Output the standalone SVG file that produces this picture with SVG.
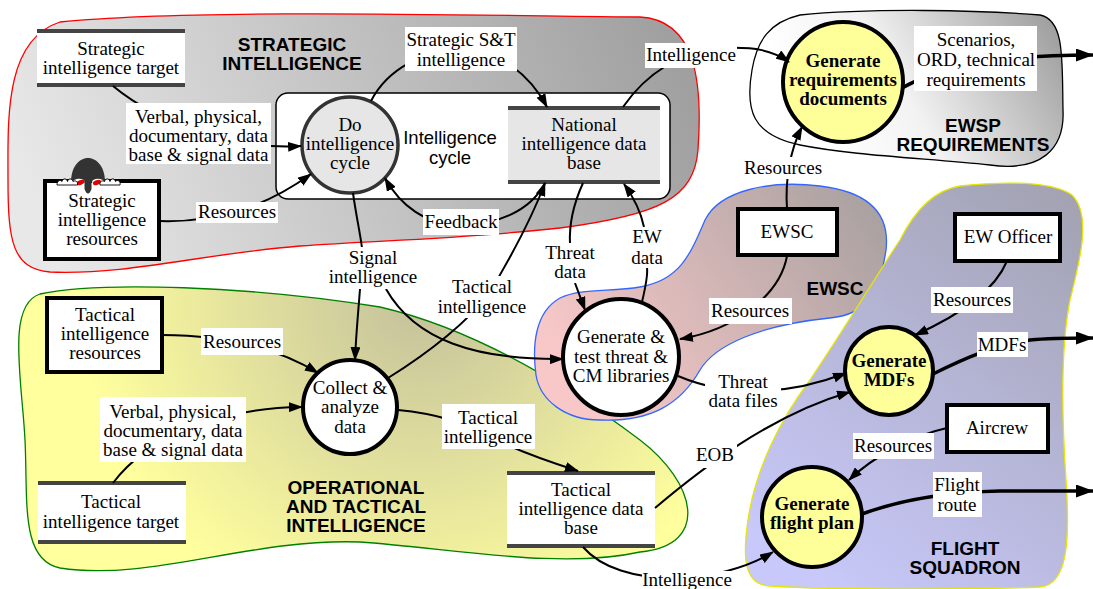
<svg xmlns="http://www.w3.org/2000/svg" width="1093" height="589" viewBox="0 0 1093 589">
  <style>
    .t { font-family: "Liberation Serif", "Times New Roman", serif; font-size: 19px; text-anchor: middle; fill: #000; }
    .tb { font-family: "Liberation Serif", "Times New Roman", serif; font-size: 19px; font-weight: bold; text-anchor: middle; fill: #000; }
    .h { font-family: "Liberation Sans", Arial, sans-serif; font-size: 19px; font-weight: bold; text-anchor: middle; fill: #000; }
    .s { font-family: "Liberation Sans", Arial, sans-serif; font-size: 18.5px; text-anchor: middle; fill: #000; }
    .lbl { fill: #fff; stroke: none; }
    .c { fill: none; stroke: #000; stroke-width: 2; }
    .ck { fill: none; stroke: #000; stroke-width: 3.5; }
    .box { fill: #fff; stroke: #000; stroke-width: 4; }
    .bar { stroke: #444; stroke-width: 4; }
    .proc { fill: #fff; stroke: #000; stroke-width: 4; }
    .gen { fill: #ffff99; stroke: #000; stroke-width: 4; }
    .region { stroke-width: 1.3; }
  </style>
  <defs>
    <marker id="ah" viewBox="0 0 14 10" refX="13" refY="5" markerWidth="14" markerHeight="10" markerUnits="userSpaceOnUse" orient="auto">
      <path d="M0,0 L14,5 L0,10 Z" fill="#000"/>
    </marker>
    <marker id="ahBig" viewBox="0 0 18 13" refX="17" refY="6.5" markerWidth="18" markerHeight="13" markerUnits="userSpaceOnUse" orient="auto">
      <path d="M0,0 L18,6.5 L0,13 Z" fill="#000"/>
    </marker>
    <linearGradient id="gStrat" gradientUnits="userSpaceOnUse" x1="60" y1="270" x2="660" y2="20">
      <stop offset="0" stop-color="#e8e8e8"/>
      <stop offset="1" stop-color="#a0a0a0"/>
    </linearGradient>
    <radialGradient id="gOper" gradientUnits="userSpaceOnUse" cx="420" cy="300" r="340">
      <stop offset="0" stop-color="#c4c19c"/>
      <stop offset="1" stop-color="#ffff9e"/>
    </radialGradient>
    <linearGradient id="gEwsp" gradientUnits="userSpaceOnUse" x1="830" y1="150" x2="1060" y2="15">
      <stop offset="0" stop-color="#ffffff"/>
      <stop offset="0.35" stop-color="#f2f2f2"/>
      <stop offset="1" stop-color="#9a9a9a"/>
    </linearGradient>
    <linearGradient id="gEwsc" gradientUnits="userSpaceOnUse" x1="590" y1="400" x2="880" y2="200">
      <stop offset="0" stop-color="#f8c8c8"/>
      <stop offset="1" stop-color="#a8a0a0"/>
    </linearGradient>
    <linearGradient id="gFlight" gradientUnits="userSpaceOnUse" x1="790" y1="560" x2="1070" y2="190">
      <stop offset="0" stop-color="#c8c8fa"/>
      <stop offset="1" stop-color="#a2a2b2"/>
    </linearGradient>
  </defs>

  <!-- organisational regions -->
  <g id="regions">
    <path id="region-strategic" class="region" fill="url(#gStrat)" stroke="#ff0000"
      d="M60,22 C200,8 500,16 640,17 C695,20 703,80 698,150 C694,198 660,215 560,228 C450,240 380,240 300,246 C200,254 130,275 50,272 C12,269 8,240 8,180 C8,120 4,40 60,22 Z"/>
    <path id="region-operational" class="region" fill="url(#gOper)" stroke="#008000"
      d="M40,294 C100,281 250,286 380,307 C470,328 560,380 640,440 C695,482 712,545 640,552 C560,570 450,548 360,542 C250,538 150,582 60,568 C20,560 28,500 25,440 C22,380 6,305 40,294 Z"/>
    <path id="region-ewsp" class="region" fill="url(#gEwsp)" stroke="#000"
      d="M800,15 C870,8 980,10 1040,15 C1065,20 1062,60 1063,110 C1065,150 1040,172 990,165 C920,158 850,155 800,145 C752,135 745,110 752,70 C757,40 770,22 800,15 Z"/>
    <path id="region-ewsc" class="region" fill="url(#gEwsc)" stroke="#3366ff"
      d="M600,420 C650,422 680,405 700,370 C715,345 760,325 830,318 C870,314 880,290 886,250 C890,215 870,192 820,186 C770,180 720,190 705,220 C690,255 680,280 640,287 C610,292 580,288 560,298 C535,312 532,345 536,375 C540,400 565,420 600,420 Z"/>
    <path id="region-flight" class="region" fill="url(#gFlight)" stroke="#e6e600"
      d="M960,186 C1000,182 1050,180 1072,195 C1092,215 1080,260 1070,300 C1060,350 1062,420 1066,480 C1070,540 1068,585 1040,587 C960,590 830,590 770,586 C745,585 742,560 748,520 C755,470 780,420 810,380 C850,320 880,270 900,240 C915,210 935,190 960,186 Z"/>
  </g>

  <!-- region titles -->
  <g id="region-titles">
    <text class="h" x="292" y="51">STRATEGIC</text>
    <text class="h" x="292" y="70">INTELLIGENCE</text>
    <text class="h" x="973" y="132">EWSP</text>
    <text class="h" x="973" y="151">REQUIREMENTS</text>
    <text class="h" x="835" y="295">EWSC</text>
    <text class="h" x="356" y="494">OPERATIONAL</text>
    <text class="h" x="356" y="513">AND TACTICAL</text>
    <text class="h" x="356" y="532">INTELLIGENCE</text>
    <text class="h" x="965" y="555">FLIGHT</text>
    <text class="h" x="965" y="574">SQUADRON</text>
  </g>

  <!-- intelligence cycle frame -->
  <g id="intelligence-cycle">
    <rect x="276" y="93" width="394" height="106" rx="12" fill="#fff" stroke="#000" stroke-width="1.5"/>
    <text class="s" x="450" y="144">Intelligence</text>
    <text class="s" x="450" y="164">cycle</text>
  </g>

  <!-- nodes -->
  <g id="strategic-target">
    <rect x="37" y="31" width="148" height="54" fill="#fff"/>
    <line class="bar" x1="37" y1="31" x2="185" y2="31"/>
    <line class="bar" x1="37" y1="85" x2="185" y2="85"/>
    <text class="t" x="111" y="55">Strategic</text>
    <text class="t" x="111" y="74">intelligence target</text>
  </g>

  <g id="strategic-resources">
    <rect class="box" x="45" y="181" width="114" height="78"/>
    <text class="t" x="102" y="207">Strategic</text>
    <text class="t" x="102" y="226">intelligence</text>
    <text class="t" x="102" y="245">resources</text>
  </g>

  <!-- little figure peeking over the resources box -->
  <g id="kilroy">
    <path d="M71,182 C71,167 79,158 88,158 C97,158 105,167 105,182 Z" fill="#333"/>
    <ellipse cx="79" cy="182" rx="6" ry="3.2" fill="#fff"/>
    <ellipse cx="98" cy="182" rx="6" ry="3.2" fill="#fff"/>
    <ellipse cx="80.5" cy="182.5" rx="4.2" ry="2.3" fill="#e00000" transform="rotate(-20 80.5 182.5)"/>
    <ellipse cx="97" cy="182.5" rx="4.2" ry="2.3" fill="#e00000" transform="rotate(-20 97 182.5)"/>
    <path d="M84.5,180 L91.5,180 L91.5,189 Q88,198 84.5,189 Z" fill="#333"/>
    <path d="M57,185 c0,-4 3,-6 5,-3.5 c1,-3.5 4.5,-3.5 5.5,0 c1,-3.5 4.5,-3.5 5.5,0 c2.5,-1.5 5,0 4.5,3.5 Z" fill="#fff" stroke="#000" stroke-width="0.9"/>
    <path d="M100,185 c-0.5,-3.5 2,-5 4.5,-3.5 c1,-3.5 4.5,-3.5 5.5,0 c1,-3.5 4.5,-3.5 5.5,0 c2,-2.5 5.5,0 4.5,3.5 Z" fill="#fff" stroke="#000" stroke-width="0.9"/>
  </g>

  <g id="do-intelligence-cycle">
    <circle cx="350" cy="145" r="48" fill="#e6e6e6" stroke="#333" stroke-width="3.5"/>
    <text class="t" x="350" y="131">Do</text>
    <text class="t" x="350" y="150">intelligence</text>
    <text class="t" x="350" y="169">cycle</text>
  </g>

  <g id="national-db">
    <rect x="508" y="108" width="152" height="74" fill="#e6e6e6"/>
    <line class="bar" x1="508" y1="108" x2="660" y2="108"/>
    <line class="bar" x1="508" y1="182" x2="660" y2="182"/>
    <text class="t" x="584" y="131">National</text>
    <text class="t" x="584" y="150">intelligence data</text>
    <text class="t" x="584" y="169">base</text>
  </g>

  <g id="generate-requirements">
    <circle class="gen" cx="843" cy="82" r="60"/>
    <text class="tb" x="843" y="67">Generate</text>
    <text class="tb" x="843" y="86">requirements</text>
    <text class="tb" x="843" y="105">documents</text>
  </g>

  <g id="ewsc-box">
    <rect class="box" x="738" y="209" width="99" height="46"/>
    <text class="t" x="787" y="238">EWSC</text>
  </g>

  <g id="generate-libraries">
    <circle class="proc" cx="621" cy="357" r="58"/>
    <text class="t" x="621" y="343">Generate &amp;</text>
    <text class="t" x="621" y="363">test threat &amp;</text>
    <text class="t" x="621" y="382">CM libraries</text>
  </g>

  <g id="tactical-resources">
    <rect class="box" x="47" y="298" width="115" height="74"/>
    <text class="t" x="105" y="321">Tactical</text>
    <text class="t" x="105" y="340">intelligence</text>
    <text class="t" x="105" y="359">resources</text>
  </g>

  <g id="collect-analyze">
    <circle class="proc" cx="350" cy="407" r="47"/>
    <text class="t" x="350" y="394">Collect &amp;</text>
    <text class="t" x="350" y="413">analyze</text>
    <text class="t" x="350" y="433">data</text>
  </g>

  <g id="tactical-target">
    <rect x="38" y="483" width="148" height="59" fill="#fff"/>
    <line class="bar" x1="38" y1="483" x2="186" y2="483"/>
    <line class="bar" x1="38" y1="542" x2="186" y2="542"/>
    <text class="t" x="111" y="508">Tactical</text>
    <text class="t" x="111" y="528">intelligence target</text>
  </g>

  <g id="tactical-db">
    <rect x="507" y="473" width="148" height="73" fill="#fff"/>
    <line class="bar" x1="507" y1="473" x2="655" y2="473"/>
    <line class="bar" x1="507" y1="546" x2="655" y2="546"/>
    <text class="t" x="581" y="496">Tactical</text>
    <text class="t" x="581" y="515">intelligence data</text>
    <text class="t" x="581" y="534">base</text>
  </g>

  <g id="ew-officer">
    <rect class="box" x="955" y="214" width="105" height="47"/>
    <text class="t" x="1008" y="243">EW Officer</text>
  </g>

  <g id="generate-mdfs">
    <circle class="gen" cx="889" cy="371" r="44"/>
    <text class="tb" x="889" y="367">Generate</text>
    <text class="tb" x="889" y="386">MDFs</text>
  </g>

  <g id="aircrew">
    <rect class="box" x="947" y="405" width="101" height="47"/>
    <text class="t" x="997" y="434">Aircrew</text>
  </g>

  <g id="generate-flight-plan">
    <circle class="gen" cx="812" cy="517" r="50"/>
    <text class="tb" x="812" y="510">Generate</text>
    <text class="tb" x="812" y="529">flight plan</text>
  </g>

  <!-- data flows -->
  <g id="connectors">
    <path class="c" marker-end="url(#ah)" d="M113,86 C160,125 240,150 301,146"/>
    <path class="c" marker-end="url(#ah)" d="M159,221 C220,223 268,205 311,174"/>
    <path class="c" marker-end="url(#ah)" d="M371,101 C388,68 425,50 461,50 C500,50 530,75 547,107"/>
    <path class="c" marker-end="url(#ah)" d="M623,107 C645,75 680,50 725,48 C755,47 772,50 789,62"/>
    <path class="c" marker-end="url(#ah)" d="M545,183 C530,212 495,225 461,225 C425,225 400,205 385,178"/>
    <path class="c" d="M353,193 C356,215 360,232 362,248"/>
    <path class="c" marker-end="url(#ah)" d="M360,289 C358,315 356,335 355,360"/>
    <path class="c" marker-end="url(#ah)" d="M386,289 C415,340 475,360 563,359"/>
    <path class="c" marker-end="url(#ah)" d="M388,378 C430,352 470,320 490,292 C512,255 533,215 545,183"/>
    <path class="c" d="M583,183 C573,205 569,225 570,244"/>
    <path class="c" marker-end="url(#ah)" d="M575,283 L585,310"/>
    <path class="c" d="M642,302 C646,285 648,275 647,268"/>
    <path class="c" marker-end="url(#ah)" d="M644,227 C640,208 632,195 624,184"/>
    <path class="c" marker-end="url(#ah)" d="M787,209 C785,180 790,150 802,127"/>
    <path class="ck" marker-end="url(#ahBig)" d="M902,88 C930,72 980,55 1093,55"/>
    <path class="c" marker-end="url(#ah)" d="M787,256 C780,295 735,330 680,339"/>
    <path class="c" marker-end="url(#ah)" d="M678,376 C730,398 790,395 846,373"/>
    <path class="c" marker-end="url(#ah)" d="M655,508 C700,470 770,415 850,392"/>
    <path class="ck" marker-end="url(#ahBig)" d="M933,374 C965,358 995,345 1030,340 C1050,338 1070,338 1093,338"/>
    <path class="c" marker-end="url(#ah)" d="M1007,261 C995,290 960,315 915,335"/>
    <path class="c" marker-end="url(#ah)" d="M947,428 C915,435 875,455 849,480"/>
    <path class="ck" marker-end="url(#ahBig)" d="M862,514 C900,500 950,492 1000,491 L1093,491"/>
    <path class="c" marker-end="url(#ah)" d="M583,547 C620,590 720,585 773,552"/>
    <path class="c" marker-end="url(#ah)" d="M398,410 C440,414 470,425 490,437 C520,452 550,462 578,471"/>
    <path class="c" marker-end="url(#ah)" d="M162,335 C220,335 272,345 318,373"/>
    <path class="c" marker-end="url(#ah)" d="M113,483 C145,440 215,408 302,407"/>
  </g>

  <!-- flow labels -->
  <g id="connector-labels">
    <rect class="lbl" x="405" y="27" width="112" height="44"/>
    <text class="t" x="461" y="46">Strategic S&amp;T</text>
    <text class="t" x="461" y="66">intelligence</text>

    <rect class="lbl" x="645" y="43" width="92" height="25"/>
    <text class="t" x="691" y="61">Intelligence</text>

    <rect class="lbl" x="126" y="103" width="145" height="61"/>
    <text class="t" x="198.5" y="123">Verbal, physical,</text>
    <text class="t" x="198.5" y="142">documentary, data</text>
    <text class="t" x="198.5" y="161">base &amp; signal data</text>

    <rect class="lbl" x="196" y="202" width="82" height="21"/>
    <text class="t" x="237" y="218">Resources</text>

    <rect class="lbl" x="423" y="209" width="76" height="26"/>
    <text class="t" x="461" y="228">Feedback</text>

    <rect class="lbl" x="328" y="247" width="90" height="42"/>
    <text class="t" x="373" y="264">Signal</text>
    <text class="t" x="373" y="283">intelligence</text>

    <rect class="lbl" x="436" y="276" width="92" height="42"/>
    <text class="t" x="482" y="293">Tactical</text>
    <text class="t" x="482" y="313">intelligence</text>

    <rect class="lbl" x="543" y="243" width="54" height="40"/>
    <text class="t" x="570" y="259">Threat</text>
    <text class="t" x="570" y="278">data</text>

    <rect class="lbl" x="630" y="227" width="34" height="41"/>
    <text class="t" x="647" y="243">EW</text>
    <text class="t" x="647" y="264">data</text>

    <rect class="lbl" x="743" y="157" width="80" height="22"/>
    <text class="t" x="783" y="174">Resources</text>

    <rect class="lbl" x="914" y="26" width="123" height="65"/>
    <text class="t" x="976" y="46">Scenarios,</text>
    <text class="t" x="976" y="66">ORD, technical</text>
    <text class="t" x="976" y="86">requirements</text>

    <rect class="lbl" x="709" y="298" width="83" height="26"/>
    <text class="t" x="750" y="317">Resources</text>

    <rect class="lbl" x="705" y="371" width="76" height="42"/>
    <text class="t" x="743" y="388">Threat</text>
    <text class="t" x="743" y="407">data files</text>

    <rect class="lbl" x="977" y="332" width="51" height="25"/>
    <text class="t" x="1002" y="351">MDFs</text>

    <rect class="lbl" x="931" y="287" width="82" height="26"/>
    <text class="t" x="972" y="306">Resources</text>

    <rect class="lbl" x="853" y="433" width="81" height="26"/>
    <text class="t" x="893" y="452">Resources</text>

    <rect class="lbl" x="933" y="472" width="49" height="45"/>
    <text class="t" x="957" y="491">Flight</text>
    <text class="t" x="957" y="511">route</text>

    <rect class="lbl" x="695" y="444" width="42" height="24"/>
    <text class="t" x="715" y="461">EOB</text>

    <rect class="lbl" x="642" y="571" width="92" height="22"/>
    <text class="t" x="687" y="586">Intelligence</text>

    <rect class="lbl" x="201" y="328" width="82" height="27"/>
    <text class="t" x="242" y="348">Resources</text>

    <rect class="lbl" x="100" y="397" width="146" height="65"/>
    <text class="t" x="173" y="418">Verbal, physical,</text>
    <text class="t" x="173" y="437">documentary, data</text>
    <text class="t" x="173" y="456">base &amp; signal data</text>

    <rect class="lbl" x="442" y="404" width="93" height="45"/>
    <text class="t" x="488" y="424">Tactical</text>
    <text class="t" x="488" y="443">intelligence</text>
  </g>
</svg>
